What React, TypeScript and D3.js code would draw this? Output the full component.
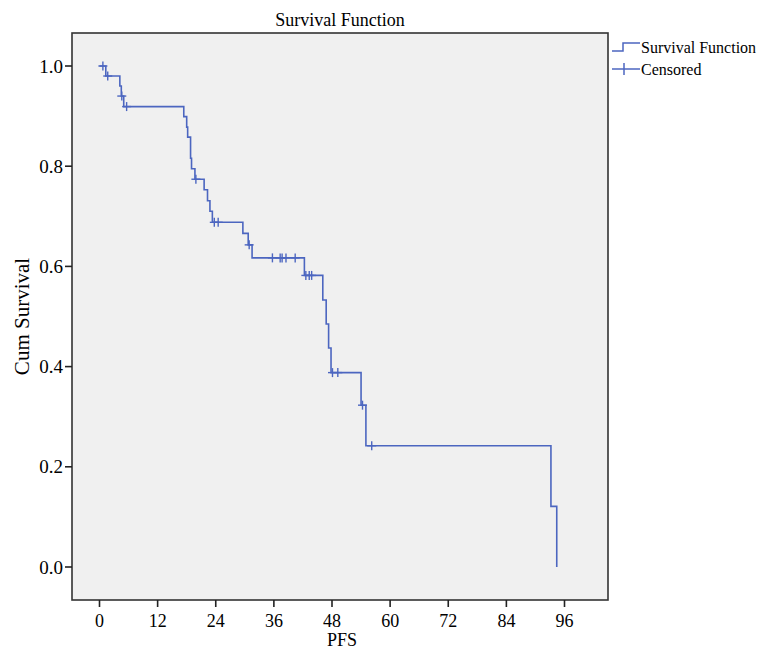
import * as d3 from "d3";

const WIDTH = 764;
const HEIGHT = 650;
const FRAME = { left: 72, top: 33, right: 608, bottom: 600 };
const FONT = "'Liberation Serif', 'Times New Roman', serif";
const LINE_COLOR = "#4c66c0";

// Kaplan-Meier steps: time (PFS) and survival after the drop
const stepTimes = [
  0, 1.3, 4.2, 4.5, 5.0, 17.4, 18.0, 18.2, 18.8, 19.0, 19.7, 21.6, 22.3, 22.8, 23.3,
  29.6, 30.7, 31.5, 42.3, 46.1, 46.8, 47.3, 47.8, 54.0, 55.0, 93.2, 94.4
];
const stepSurvival = [
  1.0, 0.98, 0.96, 0.94, 0.919, 0.899, 0.878, 0.858, 0.816, 0.795, 0.774, 0.753, 0.731,
  0.71, 0.688, 0.666, 0.643, 0.617, 0.582, 0.533, 0.485, 0.437, 0.388, 0.323, 0.242,
  0.121, 0.0
];
const censorTimes = [
  0.7, 1.7, 4.6, 5.6, 19.9, 23.7, 24.5, 30.9, 35.7, 37.3, 37.7, 38.5, 40.4, 42.6, 43.3,
  43.8, 48.1, 49.2, 54.3, 56.2
];

const xTicks = [0, 12, 24, 36, 48, 60, 72, 84, 96];
const yTicks = [0, 0.2, 0.4, 0.6, 0.8, 1.0];

function survivalAt(t: number) {
  const i = d3.bisectRight(stepTimes, t) - 1;
  return stepSurvival[Math.max(0, i)];
}

export default function App() {
  const x = d3.scaleLinear().domain([0, 96]).range([99.5, 564.5]);
  const y = d3.scaleLinear().domain([0, 1]).range([567, 66]);

  const points: [number, number][] = stepTimes.map((t, i) => [t, stepSurvival[i]]);
  const path =
    d3
      .line<[number, number]>()
      .x((d) => x(d[0]))
      .y((d) => y(d[1]))
      .curve(d3.curveStepAfter)(points) ?? "";

  const cs = 4.5;

  return (
    <svg
      width={WIDTH}
      height={HEIGHT}
      style={{ position: "absolute", left: 0, top: 0, background: "#fff" }}
      fontFamily={FONT}
    >
      <text x={340} y={26} fontSize={18} textAnchor="middle" fill="#000">
        Survival Function
      </text>

      <rect
        x={FRAME.left}
        y={FRAME.top}
        width={FRAME.right - FRAME.left}
        height={FRAME.bottom - FRAME.top}
        fill="#f0f0f0"
        stroke="#333"
        strokeWidth={1.6}
      />

      {yTicks.map((v) => (
        <g key={v}>
          <line x1={FRAME.left - 7} x2={FRAME.left} y1={y(v)} y2={y(v)} stroke="#222" strokeWidth={1.6} />
          <text x={FRAME.left - 9} y={y(v)} dy="0.35em" fontSize={19} textAnchor="end" fill="#000">
            {v.toFixed(1)}
          </text>
        </g>
      ))}

      {xTicks.map((v) => (
        <g key={v}>
          <line x1={x(v)} x2={x(v)} y1={FRAME.bottom} y2={FRAME.bottom + 7} stroke="#222" strokeWidth={1.6} />
          <text x={x(v)} y={FRAME.bottom + 27} fontSize={18} textAnchor="middle" fill="#000">
            {v}
          </text>
        </g>
      ))}

      <text x={342} y={HEIGHT - 4} fontSize={18} textAnchor="middle" fill="#000">
        PFS
      </text>
      <text
        transform={`translate(29, ${(FRAME.top + FRAME.bottom) / 2}) rotate(-90)`}
        fontSize={21}
        textAnchor="middle"
        fill="#000"
      >
        Cum Survival
      </text>

      <path d={path} fill="none" stroke={LINE_COLOR} strokeWidth={1.6} />

      {censorTimes.map((t, i) => {
        const cx = x(t);
        const cy = y(survivalAt(t));
        return (
          <g key={i} stroke={LINE_COLOR} strokeWidth={1.4}>
            <line x1={cx - cs} x2={cx + cs} y1={cy} y2={cy} />
            <line x1={cx} x2={cx} y1={cy - cs} y2={cy + cs} />
          </g>
        );
      })}

      <g stroke={LINE_COLOR} strokeWidth={1.5} fill="none">
        <path d="M612,51 H623 V43 H640" />
        <line x1={612} x2={640} y1={69} y2={69} />
        <line x1={624} x2={624} y1={63} y2={75} />
      </g>
      <text x={641} y={53} fontSize={16} fill="#000">
        Survival Function
      </text>
      <text x={641} y={75} fontSize={16} fill="#000">
        Censored
      </text>
    </svg>
  );
}
